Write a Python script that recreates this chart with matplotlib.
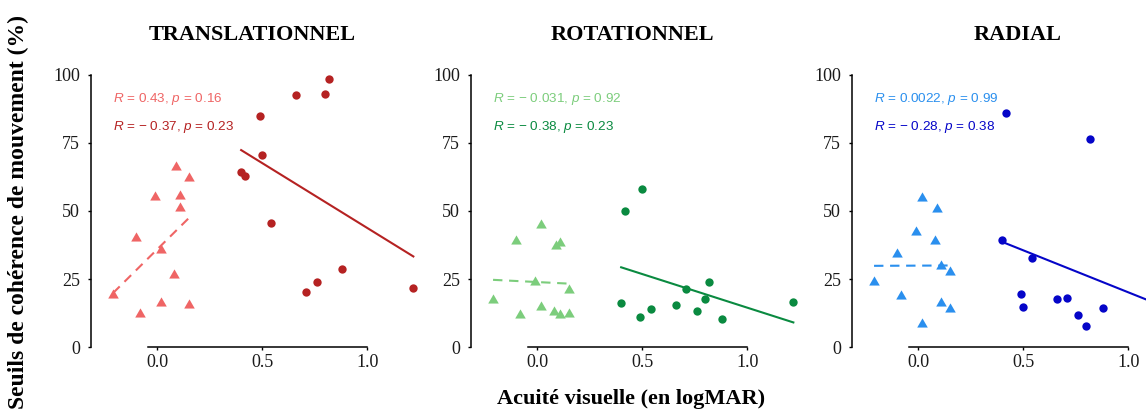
import numpy as np
import matplotlib
matplotlib.use("Agg")
import matplotlib.pyplot as plt

plt.rcParams['mathtext.fontset'] = 'custom'
plt.rcParams['mathtext.rm'] = 'Liberation Sans'
plt.rcParams['mathtext.it'] = 'Liberation Sans:italic'

# ---- data ----
titles = ["TRANSLATIONNEL", "ROTATIONNEL", "RADIAL"]

x_controls = [-0.21, -0.10, -0.08, -0.01, 0.02, 0.02, 0.08, 0.09, 0.11, 0.11, 0.15, 0.15]
x_patients = [0.40, 0.42, 0.49, 0.50, 0.54, 0.66, 0.71, 0.76, 0.80, 0.82, 0.88, 1.22]

y_controls_trans = [19.3, 40.1, 12.3, 55.1, 16.1, 35.7, 26.4, 66.3, 55.5, 51.2, 15.5, 62.3]
y_patients_trans = [64.4, 62.9, 85.0, 70.6, 45.5, 92.5, 20.1, 23.8, 93.0, 98.5, 28.7, 21.6]

y_controls_rot = [17.4, 39.0, 11.8, 24.0, 44.9, 14.8, 13.0, 37.2, 38.2, 11.9, 12.1, 21.0]
y_patients_rot = [16.0, 50.0, 10.9, 58.1, 14.0, 15.5, 21.3, 13.3, 17.7, 23.9, 10.4, 16.5]

y_controls_rad = [23.8, 34.1, 18.6, 42.3, 54.7, 8.3, 38.9, 50.9, 29.7, 16.2, 27.6, 14.0]
y_patients_rad = [39.3, 85.9, 19.6, 14.7, 32.8, 17.6, 18.0, 11.9, 7.6, 76.5, 14.3, 20.6]

stats_controls = [("0.43", "0.16"), ("\u2212 0.031", "0.92"), ("0.0022", "0.99")]
stats_patients = [("\u2212 0.37", "0.23"), ("\u2212 0.38", "0.23"), ("\u2212 0.28", "0.38")]

colors_controls = ["#EF6565", "#7CCD7C", "#2A8FEE"]
colors_patients = ["#B52222", "#0A8A40", "#0505C8"]

x_ticks = [0.0, 0.5, 1.0]
y_ticks = [0, 25, 50, 75, 100]

controls = [y_controls_trans, y_controls_rot, y_controls_rad]
patients = [y_patients_trans, y_patients_rot, y_patients_rad]

# ---- figure ----
W, H = 1146, 412
fig = plt.figure(figsize=(W / 100, H / 100), dpi=100)

lefts_px = [91, 471, 852]
ax_w_px = 340
ax_b_px = 65
ax_h_px = 272
px_per_unit = 210.0
x_left = -0.315

tri = [(-1.0, -0.577), (1.0, -0.577), (0.0, 1.155)]
serif = "Liberation Serif"

title_x_px = [252, 632, 1018]

for i in range(3):
    ax = fig.add_axes([lefts_px[i] / W, ax_b_px / H, ax_w_px / W, ax_h_px / H])
    ax.set_xlim(x_left, x_left + ax_w_px / px_per_unit)
    ax.set_ylim(0, 100)
    ax.patch.set_alpha(0)

    xc = np.array(x_controls)
    yc = np.array(controls[i])
    xp = np.array(x_patients)
    yp = np.array(patients[i])

    ax.plot(xc, yc, linestyle='none', marker=tri, markersize=8.8,
            color=colors_controls[i], markeredgewidth=0, clip_on=False, zorder=3)
    ax.plot(xp, yp, linestyle='none', marker='o', markersize=6.0,
            color=colors_patients[i], markeredgewidth=0, clip_on=False, zorder=3)

    # linear fits
    sc, ic = np.polyfit(xc, yc, 1)
    xs = np.array([xc.min(), xc.max()])
    ax.plot(xs, ic + sc * xs, color=colors_controls[i], lw=1.5,
            dashes=(4.5, 3.2), clip_on=False, zorder=2)
    sp, ip = np.polyfit(xp, yp, 1)
    xs = np.array([xp.min(), xp.max()])
    ax.plot(xs, ip + sp * xs, color=colors_patients[i], lw=1.5,
            clip_on=False, zorder=2)

    # stats text
    r, p = stats_controls[i]
    ax.text(-0.21, 91, r"$\it{R}$ = " + r + r", $\it{p}$ = " + p,
            color=colors_controls[i], fontsize=9.7, family="Liberation Sans",
            va='center', ha='left')
    r, p = stats_patients[i]
    ax.text(-0.21, 81, r"$\it{R}$ = " + r + r", $\it{p}$ = " + p,
            color=colors_patients[i], fontsize=9.7, family="Liberation Sans",
            va='center', ha='left')

    for s in ['top', 'right']:
        ax.spines[s].set_visible(False)
    ax.spines['left'].set_bounds(0, 100)
    ax.spines['bottom'].set_bounds(-0.045, 1.0)
    for s in ['left', 'bottom']:
        ax.spines[s].set_linewidth(1.1)
        ax.spines[s].set_color('black')

    ax.set_xticks(x_ticks)
    ax.set_xticklabels([f"{v:.1f}" for v in x_ticks])
    ax.set_yticks(y_ticks)
    ax.set_yticklabels([str(v) for v in y_ticks])
    ax.tick_params(axis='both', direction='out', length=2.5, width=1.0,
                   labelsize=13, colors='black')
    ax.tick_params(axis='x', pad=2.5)
    ax.tick_params(axis='y', pad=5.5)
    for lab in ax.get_xticklabels() + ax.get_yticklabels():
        lab.set_family(serif)
        lab.set_color('#1a1a1a')

    fig.text(title_x_px[i] / W, 1 - 35 / H, titles[i], family=serif,
             fontweight='bold', fontsize=16, ha='center', va='center')

fig.text(18 / W, 1 - 212 / H, "Seuils de cohérence de mouvement (%)",
         family=serif, fontweight='bold', fontsize=17, rotation=90,
         ha='center', va='center')
fig.text(631 / W, 1 - 399 / H, "Acuité visuelle (en logMAR)",
         family=serif, fontweight='bold', fontsize=16, ha='center', va='center')

fig.savefig("out.png", dpi=100, facecolor='white')
